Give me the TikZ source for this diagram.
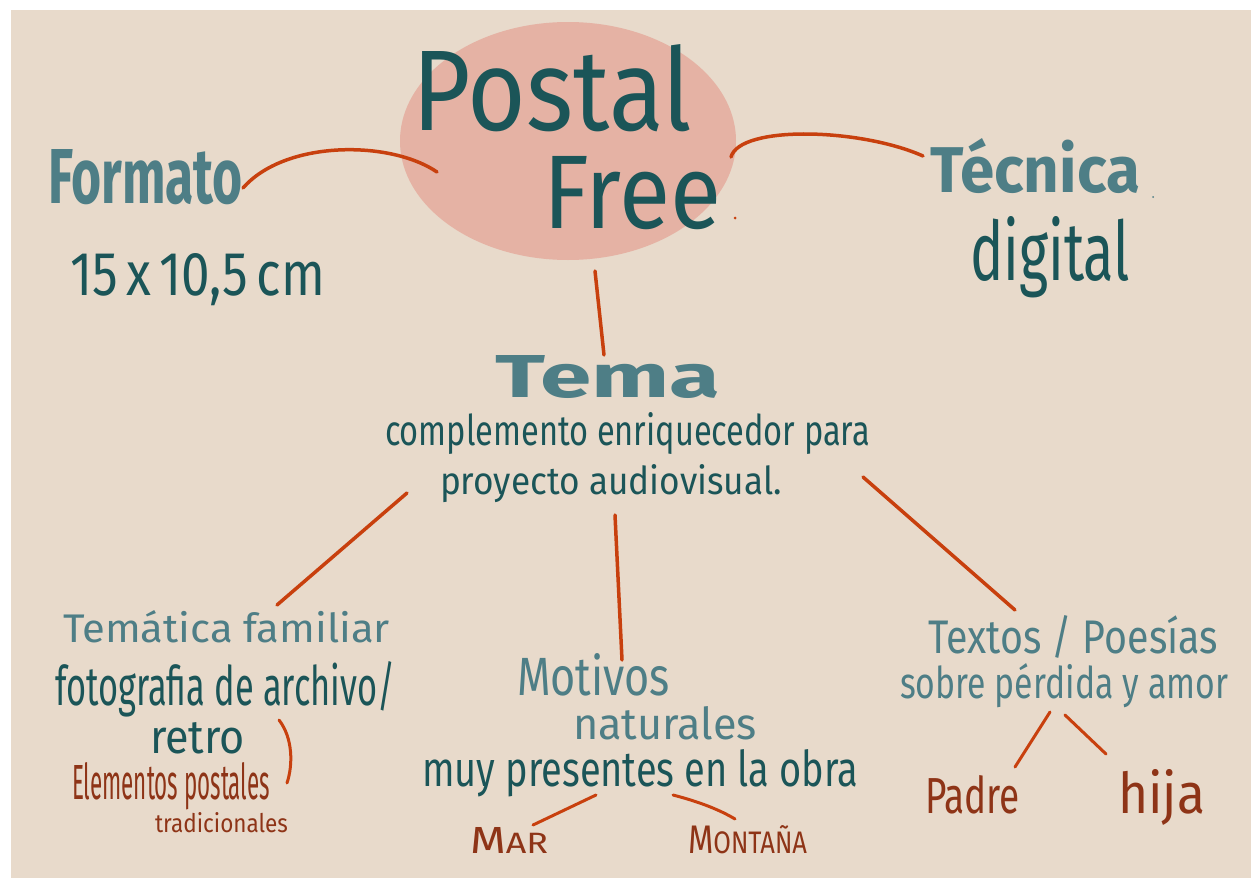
\documentclass[tikz,border=0pt]{standalone}
\usepackage{fontspec}
\setmainfont{Fira Sans}
\usepackage{graphicx}
\usetikzlibrary{shapes.geometric}
\definecolor{bgC}{HTML}{E8DACB}
\definecolor{ellC}{HTML}{E5B2A4}
\definecolor{tealL}{HTML}{4E7E86}
\definecolor{tealD}{HTML}{1B5558}
\definecolor{lineR}{HTML}{C8400E}
\definecolor{brownT}{HTML}{8E3417}
\newcommand{\fwh}[3]{\resizebox{#1pt}{#2pt}{#3}}
\tikzset{
  lbl/.style={anchor=base west, inner sep=0pt, outer sep=0pt},
  lightT/.style={lbl, text=tealL},
  darkT/.style={lbl, text=tealD},
  brownL/.style={lbl, text=brownT},
  link/.style={draw=lineR, line width=3.5pt, line cap=round},
  thinlink/.style={draw=lineR, line width=3pt, line cap=round},
}
\begin{document}
\begin{tikzpicture}[x=1pt,y=-1pt]
\useasboundingbox (0,0) rectangle (1259,878);
\fill[white] (0,0) rectangle (1259,878);
\fill[bgC] (11,10) rectangle (1251,878);

% central ellipse
\node (post) [ellipse, fill=ellC, minimum width=336pt, minimum height=238pt, inner sep=0pt] at (568,141) {};
\node (postal) [darkT] at (412,130) {\fwh{280}{86}{Postal}};
\node (free) [darkT] at (543,228) {\fwh{178}{72}{Free}};
\fill[lineR] (735,218) circle (1.5pt);

% left / right
\node (formato) [lightT] at (48,203) {\fwh{195}{54}{\bfseries Formato}};
\node (dim) [darkT] at (70,295) {\fwh{255}{42}{15\,x\,10,5\,cm}};
\node (tecnica) [lightT] at (930,192) {\fwh{210}{54}{\bfseries Técnica}};
\fill[tealL] (1153,197) circle (1pt);
\node (digital) [darkT] at (970,280) {\fwh{160}{64}{digital}};

% tema
\node (tema) [lightT] at (495,397) {\fwh{225}{42}{\bfseries Tema}};
\node (comp1) [darkT] at (385,445) {\fwh{485}{33}{complemento enriquecedor para}};
\node (comp2) [darkT] at (440,494) {\fwh{342}{30}{proyecto audiovisual.}};

% left branch
\node (tematica) [lightT] at (63,642) {\fwh{327}{32}{Temática familiar}};
\node (foto) [darkT] at (55,705) {\fwh{340}{44}{fotografia de archivo/}};
\node (retro) [darkT] at (150,753) {\fwh{95}{31}{retro}};
\node (elem) [brownL] at (72,799) {\fwh{198}{37}{Elementos postales}};
\node (trad) [brownL] at (155,832) {\fwh{133}{20}{tradicionales}};

% middle branch
\node (motivos) [lightT] at (517,695) {\fwh{153}{42}{Motivos}};
\node (natur) [lightT] at (573,739) {\fwh{184}{33}{naturales}};
\node (muy) [darkT] at (422,786) {\fwh{436}{37}{muy presentes en la obra}};
\node (mar) [brownL] at (470,853) {\fwh{78}{26}{M\scalebox{0.78}{AR}}};
\node (montana) [brownL] at (688,853) {\fwh{119}{28}{M\scalebox{0.78}{ONTAÑA}}};

% right branch
\node (textos) [lightT] at (928,653) {\fwh{290}{38}{Textos / Poesías}};
\node (sobre) [lightT] at (900,698) {\fwh{328}{35}{sobre pérdida y amor}};
\node (padre) [brownL] at (925,813) {\fwh{95}{38}{Padre}};
\node (hija) [brownL] at (1118,813) {\fwh{87}{44}{hija}};

% connector end points
\coordinate (cF1) at (243,188);
\coordinate (cF2) at (437,172);
\coordinate (cT1) at (731,157);
\coordinate (cT2) at (923,156);
\coordinate (cE1) at (595,271);
\coordinate (cE2) at (604,355);
\coordinate (cL1) at (407,493);
\coordinate (cL2) at (277,605);
\coordinate (cM1) at (615,515);
\coordinate (cM2) at (622,660);
\coordinate (cR1) at (863,477);
\coordinate (cR2) at (1015,610);
\coordinate (cMa1) at (596,795);
\coordinate (cMa2) at (533,825);
\coordinate (cMo1) at (673,795);
\coordinate (cMo2) at (735,819);
\coordinate (cP1) at (1050,712);
\coordinate (cP2) at (1015,767);
\coordinate (cH1) at (1065,715);
\coordinate (cH2) at (1106,754);
\coordinate (cB1) at (279,720);
\coordinate (cB2) at (287,783);

\draw[link] (cF1) .. controls (285,140) and (390,140) .. (cF2);
\draw[link] (cT1) .. controls (740,125) and (860,128) .. (cT2);
\draw[link] (cE1) -- (cE2);
\draw[link] (cL1) -- (cL2);
\draw[link] (cM1) -- (cM2);
\draw[link] (cR1) -- (cR2);
\draw[thinlink] (cMa1) -- (cMa2);
\draw[thinlink] (cMo1) .. controls (700,802) and (720,810) .. (cMo2);
\draw[thinlink] (cP1) -- (cP2);
\draw[thinlink] (cH1) -- (cH2);
\draw[thinlink] (cB1) .. controls (293,738) and (293,765) .. (cB2);
\end{tikzpicture}
\end{document}
